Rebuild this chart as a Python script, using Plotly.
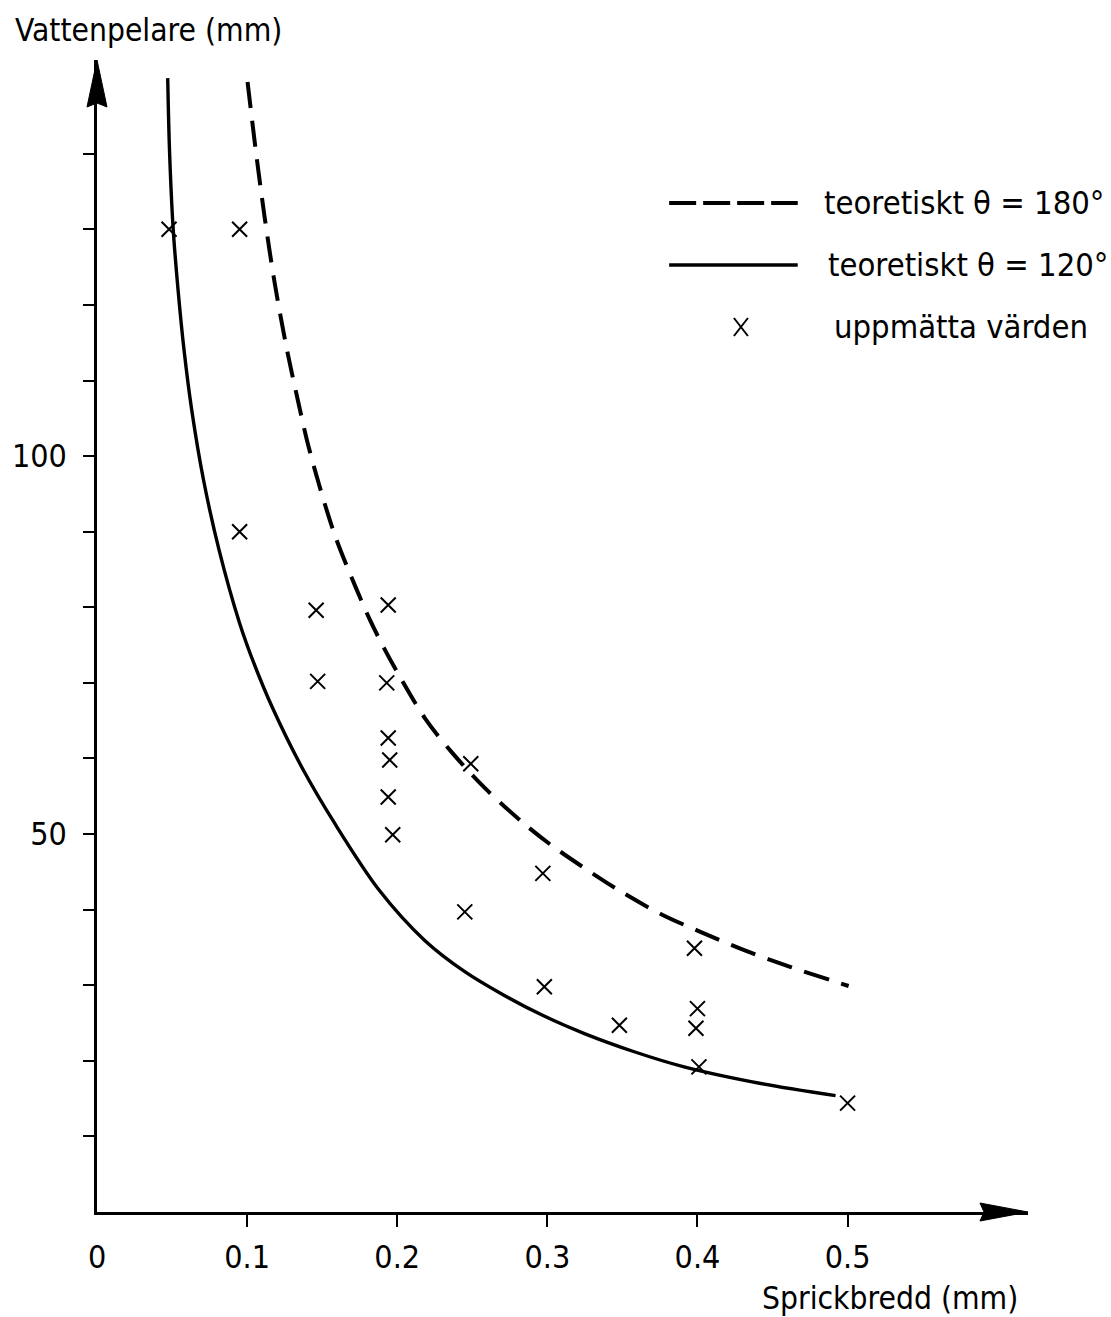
import plotly.graph_objects as go

# Theoretical capillary height, contact angle 180 degrees (dashed)
theta180_x = [0.1003, 0.1056, 0.1116, 0.1182, 0.1262, 0.1348, 0.1401, 0.1481, 0.1587,
              0.1720, 0.1819, 0.1912, 0.2012, 0.2185, 0.2364, 0.2583, 0.2849, 0.3028,
              0.3247, 0.3473, 0.3758, 0.4004, 0.4290, 0.4622, 0.5007]
theta180_y = [149.5, 140.7, 131.7, 123.1, 114.4, 106.5, 101.9, 96.1, 89.4,
              82.8, 78.3, 74.6, 71.0, 65.3, 60.8, 56.1, 51.3, 48.5,
              45.5, 42.6, 39.4, 37.2, 34.8, 32.4, 29.9]

# Theoretical capillary height, contact angle 120 degrees (solid)
theta120_x = [0.0471, 0.0483, 0.0507, 0.0540, 0.0580, 0.0631, 0.0710, 0.0813, 0.0950,
              0.1049, 0.1169, 0.1368, 0.1587, 0.1879, 0.2185, 0.2450, 0.2696, 0.2975,
              0.3247, 0.3579, 0.3911, 0.4422, 0.4920]
theta120_y = [150.0, 140.5, 130.2, 122.0, 114.0, 106.1, 96.8, 87.6, 77.9,
              72.4, 66.7, 58.7, 51.3, 42.6, 35.9, 31.8, 28.85, 25.95,
              23.6, 21.2, 19.2, 17.0, 15.4]

# Measured values
measured_x = [0.048, 0.095, 0.095, 0.146, 0.147, 0.194, 0.193, 0.194, 0.195, 0.194,
              0.197, 0.249, 0.245, 0.297, 0.298, 0.348, 0.398, 0.400, 0.399, 0.401, 0.500]
measured_y = [130.0, 130.0, 90.0, 79.6, 70.2, 80.3, 70.0, 62.7, 59.8, 54.9,
              49.9, 59.3, 39.7, 44.8, 29.8, 24.7, 34.9, 26.9, 24.3, 19.2, 14.4]

x_ticks = [0.1, 0.2, 0.3, 0.4, 0.5]
x_tick_labels = ["0.1", "0.2", "0.3", "0.4", "0.5"]
y_ticks = [10, 20, 30, 40, 50, 60, 70, 80, 90, 100, 110, 120, 130, 140]
y_tick_labels = [str(v) if v in (50, 100) else "" for v in y_ticks]

legend_labels = ["teoretiskt \u03b8 = 180\u00b0", "teoretiskt \u03b8 = 120\u00b0", "upp\u006d\u00e4tta v\u00e4rden"]
y_title = "Vattenpelare (mm)"
x_title = "Sprickbredd (mm)"

FONT = "DejaVu Sans Condensed, Liberation Sans Narrow, DejaVu Sans, sans-serif"
FS = 32
INK = "black"

W, H = 1111, 1317
L, R, T, B = 94, 83, 60, 105
PW, PH = W - L - R, H - T - B
X_MAX = 0.6202
Y_MAX = 152.4


def px_x(p):
    return (p - L) / PW


def px_y(p):
    return (H - B - p) / PH


fig = go.Figure()

fig.add_trace(go.Scatter(
    x=theta180_x, y=theta180_y, mode="lines",
    line=dict(color=INK, width=4, dash="26px,13px", shape="spline", smoothing=0.9),
    hoverinfo="skip", showlegend=False,
))
fig.add_trace(go.Scatter(
    x=theta120_x, y=theta120_y, mode="lines",
    line=dict(color=INK, width=3.4, shape="spline", smoothing=0.9),
    hoverinfo="skip", showlegend=False,
))
fig.add_trace(go.Scatter(
    x=measured_x, y=measured_y, mode="markers",
    marker=dict(symbol="x-thin", size=15, line=dict(color=INK, width=2)),
    showlegend=False,
))

shapes = []
# Arrowheads at the ends of both axes (pixel-sized, anchored to the axis ends)
shapes.append(dict(type="path", xref="paper", yref="paper", xsizemode="pixel", ysizemode="pixel",
                   xanchor=1, yanchor=0, path="M0,0 L-48,9 L-44,0 L-48,-9 Z",
                   fillcolor=INK, line=dict(color=INK, width=1)))
shapes.append(dict(type="path", xref="paper", yref="paper", xsizemode="pixel", ysizemode="pixel",
                   xanchor=0, yanchor=1, path="M0,0 L-10,-47 L0,-43 L10,-47 Z",
                   fillcolor=INK, line=dict(color=INK, width=1)))

# Legend samples
shapes.append(dict(type="line", xref="paper", yref="paper",
                   x0=px_x(668), x1=px_x(797), y0=px_y(203), y1=px_y(203),
                   line=dict(color=INK, width=4, dash="27px,7px")))
shapes.append(dict(type="line", xref="paper", yref="paper",
                   x0=px_x(668), x1=px_x(797), y0=px_y(265), y1=px_y(265),
                   line=dict(color=INK, width=3.4)))
shapes.append(dict(type="path", xref="paper", yref="paper", xsizemode="pixel", ysizemode="pixel",
                   xanchor=px_x(740), yanchor=px_y(327),
                   path="M-7,-9 L7,9 M-7,9 L7,-9", line=dict(color=INK, width=2)))

LEG_FONT = dict(family=FONT, size=32.5, color=INK)
annotations = [
    dict(text=legend_labels[0], xref="paper", yref="paper", x=px_x(821), y=px_y(203),
         xanchor="left", yanchor="middle", showarrow=False, font=LEG_FONT),
    dict(text=legend_labels[1], xref="paper", yref="paper", x=px_x(825), y=px_y(265),
         xanchor="left", yanchor="middle", showarrow=False, font=LEG_FONT),
    dict(text=legend_labels[2], xref="paper", yref="paper", x=px_x(831), y=px_y(327),
         xanchor="left", yanchor="middle", showarrow=False, font=LEG_FONT),
    dict(text=y_title, xref="paper", yref="paper", x=px_x(10), y=px_y(30),
         xanchor="left", yanchor="middle", showarrow=False, font=dict(size=31.5)),
    dict(text=x_title, xref="paper", yref="paper", x=px_x(1020), y=px_y(1298),
         xanchor="right", yanchor="middle", showarrow=False, font=dict(size=31.5)),
    dict(text="0", xref="x", yref="paper", x=0, y=px_y(1257),
         xanchor="center", yanchor="middle", showarrow=False),
]

fig.update_layout(
    width=W, height=H,
    margin=dict(l=L, r=R, t=T, b=B, pad=0),
    paper_bgcolor="white", plot_bgcolor="white",
    font=dict(family=FONT, size=FS, color=INK),
    shapes=shapes, annotations=annotations,
    showlegend=False,
    xaxis=dict(range=[0, X_MAX], showgrid=False, zeroline=False,
               showline=True, linecolor=INK, linewidth=2.5,
               tickmode="array", tickvals=x_ticks, ticktext=x_tick_labels,
               ticks="outside", ticklen=12, tickwidth=1.6, tickcolor=INK,
               tickfont=dict(family=FONT, size=FS, color=INK), ticklabelstandoff=3),
    yaxis=dict(range=[0, Y_MAX], showgrid=False, zeroline=False,
               showline=True, linecolor=INK, linewidth=2.5,
               tickmode="array", tickvals=y_ticks, ticktext=y_tick_labels,
               ticks="outside", ticklen=11, tickwidth=1.6, tickcolor=INK,
               tickfont=dict(family=FONT, size=FS, color=INK), ticklabelstandoff=10),
)

fig.write_html("out.html")
